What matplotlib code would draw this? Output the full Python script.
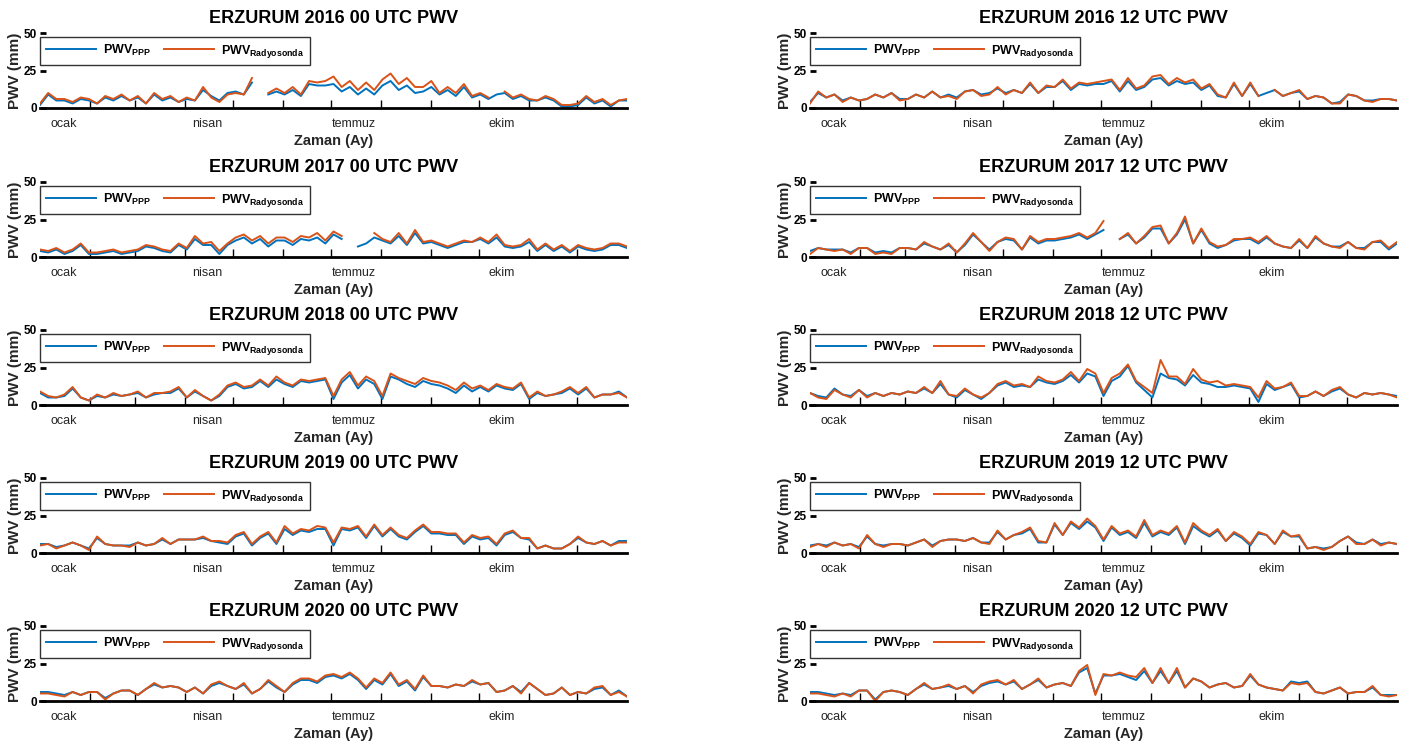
import numpy as np
import matplotlib.pyplot as plt

nan = np.nan

plt.rcParams['font.family'] = ['Liberation Sans', 'DejaVu Sans']
plt.rcParams['mathtext.fontset'] = 'custom'
plt.rcParams['mathtext.rm'] = 'Liberation Sans:bold'
plt.rcParams['mathtext.bf'] = 'Liberation Sans:bold'
plt.rcParams['mathtext.default'] = 'regular'

# month labels and month starts (day of year)
month_labels = ['ocak', 'nisan', 'temmuz', 'ekim']
month_label_days = [16, 105, 196, 288]
month_start_days = [32, 60, 91, 121, 152, 182, 213, 244, 274, 305, 335]

rad_2016_00 = [3, 10, 6, 6, 4, 7, 6, 3, 8, 6, 9, 5, 8, 3, 10, 6, 8, 4, 7, 5, 14, 7, 4, 9,
               10, 9, 20, nan, 10, 13, 10, 14, 9, 18, 17, 18, 21, 14, 18, 12, 17, 12, 19,
               23, 16, 20, 14, 14, 18, 10, 14, 10, 16, 8, 10, 7, nan, 11, 7, 9, 6,
               5, 8, 6, 2, 2, 3, 8, 4, 6, 2, 5, 6]
ppp_2016_00 = [2, 9, 5, 5, 3, 6, 5, 3, 7, 5, 8, 5, 7, 3, 9, 5, 7, 4, 6, 5, 12, 8, 5, 10,
               11, 9, 17, nan, 9, 11, 9, 12, 8, 16, 15, 15, 16, 11, 14, 9, 13, 9, 15,
               18, 12, 15, 10, 11, 14, 9, 12, 8, 14, 7, 9, 6, 9, 10, 6, 8, 5,
               5, 7, 5, 1, 1, 2, 7, 3, 5, 1, 5, 5]

rad_2017_00 = [5, 4, 6, 3, 5, 9, 3, 3, 4, 5, 3, 4, 5, 8, 7, 5, 4, 9, 6, 14, 9, 10, 4, 9,
               13, 15, 11, 14, 9, 13, 13, 10, 14, 13, 16, 11, 17, 14, nan, nan, nan, 16, 12,
               10, 16, 9, 18, 10, 11, 9, 7, 9, 11, 10, 13, 10, 15, 8, 7, 8, 12,
               5, 9, 5, 8, 4, 8, 6, 5, 6, 9, 9, 7]
ppp_2017_00 = [4, 3, 5, 2, 4, 8, 2, 2, 3, 4, 2, 3, 4, 7, 6, 4, 3, 8, 5, 12, 8, 8, 2, 8,
               11, 13, 9, 12, 7, 11, 11, 8, 12, 11, 13, 9, 15, 12, nan, 7, 9, 13, 11,
               9, 14, 8, 16, 9, 10, 8, 6, 8, 10, 10, 12, 9, 13, 7, 6, 7, 10,
               4, 8, 4, 7, 3, 7, 5, 4, 5, 8, 8, 6]

rad_2018_00 = [9, 6, 5, 7, 12, 5, 3, 7, 5, 8, 6, 7, 9, 5, 8, 8, 9, 12, 5, 10, 6, 3, 7, 13,
               15, 12, 13, 17, 13, 19, 15, 13, 17, 16, 17, 18, 6, 17, 22, 13, 19, 16, 6,
               21, 18, 16, 14, 18, 16, 15, 13, 10, 15, 11, 13, 10, 14, 12, 11, 15, 5,
               9, 6, 7, 9, 12, 8, 12, 5, 7, 7, 8, 5]
ppp_2018_00 = [8, 5, 5, 6, 11, 5, 3, 6, 5, 7, 6, 7, 8, 5, 7, 8, 8, 11, 5, 9, 6, 3, 6, 12,
               14, 11, 12, 16, 12, 17, 14, 12, 16, 15, 16, 17, 4, 15, 20, 11, 17, 14, 4,
               19, 17, 14, 12, 16, 14, 13, 11, 8, 13, 9, 12, 9, 13, 11, 10, 14, 4,
               8, 6, 7, 8, 11, 7, 11, 5, 7, 7, 9, 5]

rad_2019_00 = [5, 6, 3, 5, 7, 5, 2, 11, 6, 5, 5, 4, 7, 5, 6, 10, 6, 9, 9, 9, 11, 8, 8, 7,
               12, 14, 6, 11, 14, 7, 18, 13, 16, 15, 18, 17, 7, 17, 16, 18, 11, 19, 12,
               17, 12, 10, 15, 19, 14, 14, 13, 13, 7, 12, 10, 11, 6, 13, 15, 10, 10,
               3, 5, 3, 3, 6, 11, 7, 6, 8, 5, 7, 7]
ppp_2019_00 = [6, 6, 4, 5, 7, 5, 3, 10, 6, 5, 5, 5, 7, 5, 6, 9, 6, 9, 9, 9, 10, 8, 7, 6,
               11, 13, 5, 10, 13, 6, 16, 12, 15, 14, 16, 16, 5, 16, 15, 17, 10, 18, 11,
               16, 11, 9, 14, 18, 13, 13, 12, 12, 6, 11, 9, 10, 5, 12, 14, 10, 9,
               3, 5, 3, 3, 6, 10, 7, 6, 8, 5, 8, 8]

rad_2020_00 = [5, 5, 4, 3, 6, 4, 6, 6, 1, 5, 7, 7, 4, 8, 12, 9, 10, 9, 6, 9, 5, 11, 13, 10,
               8, 12, 5, 8, 14, 10, 6, 12, 15, 15, 13, 17, 18, 16, 19, 15, 9, 15, 12,
               19, 11, 14, 8, 17, 10, 10, 9, 11, 10, 14, 11, 12, 6, 7, 10, 5, 12,
               8, 4, 5, 9, 4, 6, 5, 9, 10, 4, 6, 3]
ppp_2020_00 = [6, 6, 5, 4, 6, 4, 6, 6, 2, 5, 7, 7, 4, 8, 11, 9, 10, 9, 6, 9, 5, 10, 12, 10,
               8, 11, 5, 8, 13, 9, 6, 11, 14, 14, 12, 16, 17, 15, 18, 14, 8, 14, 11,
               18, 10, 13, 7, 16, 10, 10, 9, 11, 10, 13, 11, 12, 6, 7, 10, 6, 12,
               8, 4, 5, 9, 4, 6, 5, 8, 9, 4, 7, 3]

rad_2016_12 = [3, 11, 7, 9, 4, 7, 5, 6, 9, 7, 10, 5, 6, 9, 7, 11, 7, 8, 6, 11, 12, 8, 9, 14,
               9, 12, 10, 17, 10, 15, 14, 19, 13, 17, 16, 17, 18, 19, 12, 20, 13, 15, 21,
               22, 16, 20, 17, 19, 13, 16, 9, 7, 17, 8, 17, 8, nan, 12, 8, 10, 12,
               6, 8, 7, 3, 3, 9, 8, 5, 4, 6, 6, 5]
ppp_2016_12 = [4, 10, 7, 9, 5, 7, 5, 6, 9, 7, 10, 6, 6, 9, 7, 11, 7, 9, 7, 11, 12, 9, 10, 13,
               10, 12, 10, 16, 10, 14, 14, 18, 12, 16, 15, 16, 16, 18, 11, 18, 12, 14, 19,
               20, 15, 18, 16, 17, 12, 15, 8, 7, 16, 8, 16, 8, 10, 12, 8, 10, 11,
               6, 8, 7, 3, 4, 9, 8, 5, 5, 6, 6, 5]

rad_2017_12 = [2, 6, 5, 4, 5, 2, 6, 6, 2, 3, 2, 6, 6, 5, 10, 7, 5, 9, 3, 9, 16, 10, 4, 10,
               13, 12, 5, 14, 10, 12, 12, 13, 14, 16, 13, 16, 24, nan, 12, 16, 9, 14, 20,
               21, 9, 16, 27, 9, 19, 10, 7, 8, 12, 12, 13, 10, 14, 9, 7, 6, 12,
               6, 14, 9, 7, 6, 10, 6, 5, 10, 11, 6, 10]
ppp_2017_12 = [4, 6, 5, 5, 5, 3, 6, 6, 3, 4, 3, 6, 6, 5, 9, 7, 5, 8, 3, 8, 15, 10, 5, 10,
               12, 11, 5, 13, 9, 11, 11, 12, 13, 15, 12, 15, 18, nan, 12, 15, 9, 13, 19,
               19, 9, 15, 25, 9, 18, 9, 6, 8, 11, 12, 12, 9, 13, 9, 7, 6, 11,
               6, 13, 9, 7, 7, 10, 6, 6, 10, 10, 5, 9]

rad_2018_12 = [8, 5, 4, 10, 7, 5, 10, 5, 8, 6, 8, 7, 9, 8, 12, 8, 16, 7, 6, 11, 7, 5, 8, 14,
               16, 13, 14, 12, 19, 16, 15, 17, 22, 16, 24, 21, 8, 18, 21, 27, 16, 12, 8,
               30, 19, 19, 14, 24, 17, 15, 16, 13, 14, 13, 12, 5, 16, 11, 12, 15, 6,
               6, 9, 6, 10, 12, 7, 5, 8, 7, 8, 7, 5]
ppp_2018_12 = [8, 6, 5, 11, 7, 6, 10, 6, 8, 6, 8, 7, 9, 8, 11, 8, 14, 7, 5, 10, 7, 4, 8, 13,
               15, 12, 13, 12, 17, 15, 14, 16, 20, 15, 21, 19, 6, 16, 19, 26, 15, 10, 5,
               21, 18, 17, 13, 20, 15, 14, 12, 12, 13, 12, 11, 2, 14, 10, 12, 14, 5,
               6, 9, 6, 9, 11, 7, 5, 8, 7, 8, 7, 6]

rad_2019_12 = [4, 6, 4, 7, 5, 6, 3, 12, 6, 4, 6, 6, 5, 7, 9, 4, 8, 9, 9, 8, 10, 7, 6, 15,
               9, 12, 14, 17, 8, 7, 20, 12, 21, 17, 23, 18, 9, 18, 13, 15, 11, 22, 12,
               15, 13, 18, 7, 20, 15, 12, 16, 8, 14, 11, 6, 14, 12, 6, 15, 11, 12,
               3, 4, 2, 4, 8, 11, 6, 6, 9, 5, 7, 6]
ppp_2019_12 = [5, 6, 5, 7, 5, 6, 4, 11, 6, 5, 6, 6, 5, 7, 9, 5, 8, 9, 9, 8, 10, 7, 7, 14,
               9, 12, 13, 16, 7, 7, 19, 12, 20, 16, 21, 17, 8, 17, 12, 14, 10, 20, 11,
               14, 12, 17, 6, 18, 14, 11, 15, 8, 13, 10, 5, 13, 12, 6, 14, 11, 11,
               3, 4, 3, 4, 8, 11, 7, 6, 9, 6, 7, 6]

rad_2020_12 = [5, 5, 4, 3, 5, 3, 7, 7, 0, 6, 7, 6, 4, 8, 12, 8, 9, 11, 8, 10, 5, 11, 13, 14,
               11, 14, 8, 11, 15, 9, 11, 12, 10, 20, 24, 4, 18, 17, 19, 17, 16, 22, 12,
               22, 12, 22, 9, 15, 13, 9, 11, 12, 9, 10, 18, 11, 9, 8, 7, 12, 11,
               12, 6, 5, 7, 9, 5, 6, 6, 10, 4, 3, 4]
ppp_2020_12 = [6, 6, 5, 4, 5, 4, 7, 7, 1, 6, 7, 6, 4, 8, 11, 8, 9, 10, 8, 10, 6, 10, 12, 13,
               11, 13, 8, 11, 14, 9, 11, 12, 10, 19, 22, 5, 17, 17, 18, 16, 14, 20, 12,
               20, 12, 20, 9, 15, 13, 9, 11, 12, 9, 10, 17, 11, 9, 8, 7, 13, 12,
               13, 6, 5, 7, 9, 5, 6, 6, 9, 4, 4, 4]

panels = [
    ('2016', '00', ppp_2016_00, rad_2016_00), ('2016', '12', ppp_2016_12, rad_2016_12),
    ('2017', '00', ppp_2017_00, rad_2017_00), ('2017', '12', ppp_2017_12, rad_2017_12),
    ('2018', '00', ppp_2018_00, rad_2018_00), ('2018', '12', ppp_2018_12, rad_2018_12),
    ('2019', '00', ppp_2019_00, rad_2019_00), ('2019', '12', ppp_2019_12, rad_2019_12),
    ('2020', '00', ppp_2020_00, rad_2020_00), ('2020', '12', ppp_2020_12, rad_2020_12),
]

W, H = 1408, 742
fig = plt.figure(figsize=(W / 100, H / 100), dpi=100)

col_left = [40, 810]
row_bottom = [108, 257, 405, 553, 701]
ax_w, ax_h = 587, 75

for i, (yr, hh, ppp, rad) in enumerate(panels):
    row, col = i // 2, i % 2
    ax = fig.add_axes([col_left[col] / W, 1 - row_bottom[row] / H, ax_w / W, ax_h / H])
    days = np.linspace(1, 366, len(rad))

    ax.plot(days, ppp, color='#0072BD', lw=1.4, label=r'PWV$_{PPP}$')
    ax.plot(days, rad, color='#D95319', lw=1.4, label=r'PWV$_{Radyosonda}$')

    ax.set_xlim(1, 366)
    ax.set_ylim(0, 50)

    for s in ['left', 'top', 'right']:
        ax.spines[s].set_visible(False)
    ax.spines['bottom'].set_linewidth(2.0)
    ax.spines['bottom'].set_color('black')

    ax.set_yticks([0, 25, 50])
    ax.tick_params(axis='y', direction='in', length=4, width=2, labelsize=8.5, pad=2)
    for lbl in ax.get_yticklabels():
        lbl.set_fontweight('bold')

    ax.set_xticks(month_label_days)
    ax.set_xticklabels(month_labels)
    ax.set_xticks(month_start_days, minor=True)
    ax.tick_params(axis='x', which='major', length=0, labelsize=9, pad=7, labelcolor='#262626')
    ax.tick_params(axis='x', which='minor', direction='in', length=6, width=1)

    ax.set_title('ERZURUM {} {} UTC PWV'.format(yr, hh), fontsize=13, fontweight='bold', pad=7)
    ax.set_xlabel('Zaman (Ay)', fontsize=10.5, fontweight='bold', labelpad=3, color='#262626')
    ax.set_ylabel('PWV (mm)', fontsize=11, fontweight='bold', va='center', color='#262626')
    ax.yaxis.set_label_coords(-0.043, 0.5)

    leg = ax.legend(loc='upper left', bbox_to_anchor=(0, 0.947), borderaxespad=0, ncol=2,
                    prop={'weight': 'bold', 'size': 9}, handlelength=4.0, handletextpad=0.6,
                    columnspacing=1.0, fancybox=False, framealpha=1, edgecolor='#333333',
                    borderpad=0.45)
    leg.get_frame().set_linewidth(1.0)

fig.savefig('out.png', dpi=100)
